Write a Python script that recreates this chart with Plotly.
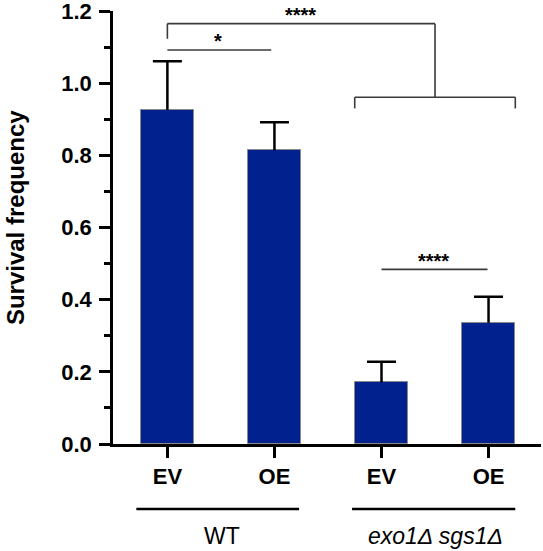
import plotly.graph_objects as go

# ---- data ----
categories = ["EV", "OE", "EV", "OE"]
means = [0.926, 0.814, 0.171, 0.336]
errors = [0.135, 0.078, 0.057, 0.072]
groups = ["WT", "<i>exo1\u0394 sgs1\u0394</i>"]
y_title = "Survival frequency"

BAR_COLOR = "#00218E"
FONT = "Liberation Sans, Arial, sans-serif"
XR = [-0.508, 3.49]
YR = [0, 1.2]
xpos = list(range(len(categories)))


def px(v):  # data x -> paper fraction
    return (v - XR[0]) / (XR[1] - XR[0])


def py(v):  # data y -> paper fraction
    return (v - YR[0]) / (YR[1] - YR[0])


fig = go.Figure()

fig.add_trace(go.Bar(
    x=xpos, y=means, width=0.5,
    marker=dict(color=BAR_COLOR, line=dict(color="#8a8a8a", width=1)),
    showlegend=False, hoverinfo="skip",
))

# error stems (upper only)
sx, sy = [], []
for i, (m, e) in enumerate(zip(means, errors)):
    sx += [i, i, None]
    sy += [m, m + e, None]
fig.add_trace(go.Scatter(x=sx, y=sy, mode="lines",
                         line=dict(color="black", width=2.5),
                         showlegend=False, hoverinfo="skip"))
# caps
fig.add_trace(go.Scatter(
    x=xpos, y=[m + e for m, e in zip(means, errors)], mode="markers",
    marker=dict(size=1, color="rgba(0,0,0,0)"),
    error_y=dict(type="constant", value=0, width=14.5, thickness=2.5, color="black"),
    showlegend=False, hoverinfo="skip"))

# significance brackets (data units)
SIG = "#3a3a3a"
brackets = [
    ([0, 0, 2.5, 2.5], [1.123, 1.165, 1.165, 0.961]),
    ([1.75, 1.75, 3.25, 3.25], [0.930, 0.961, 0.961, 0.930]),
    ([0, 0.97], [1.092, 1.092]),
    ([2.0, 2.99], [0.484, 0.484]),
]
for bx, by in brackets:
    for k in range(len(bx) - 1):
        fig.add_shape(type="line", xref="paper", yref="paper",
                      x0=px(bx[k]), x1=px(bx[k + 1]), y0=py(by[k]), y1=py(by[k + 1]),
                      line=dict(color=SIG, width=1.6), layer="above")

# group lines under axis
group_lines = [([-0.29, 1.23], -0.18), ([1.725, 3.25], -0.18)]
for (gx0, gx1), gy in group_lines:
    fig.add_shape(type="line", xref="paper", yref="paper",
                  x0=px(gx0), x1=px(gx1), y0=py(gy), y1=py(gy),
                  line=dict(color="black", width=2.5))

stars = [
    (1.24, 1.19, "****"),
    (0.47, 1.118, "*"),
    (2.49, 0.508, "****"),
]
for sxv, syv, t in stars:
    fig.add_annotation(x=px(sxv), y=py(syv), text="<b>" + t + "</b>",
                       showarrow=False, xref="paper", yref="paper",
                       xanchor="center", yanchor="middle",
                       font=dict(family=FONT, size=20, color="black"))
for g, cx in zip(groups, [0.51, 2.5]):
    fig.add_annotation(x=px(cx), y=py(-0.255), text=g, showarrow=False,
                       xref="paper", yref="paper", xanchor="center", yanchor="middle",
                       font=dict(family=FONT, size=23, color="black"))

# y-axis title
fig.add_annotation(x=-0.229, y=0.524, text="<b>" + y_title + "</b>", textangle=-90,
                   showarrow=False, xref="paper", yref="paper",
                   xanchor="center", yanchor="middle",
                   font=dict(family=FONT, size=24, color="black"))

fig.update_layout(
    width=543, height=551,
    margin=dict(l=113, r=2, t=11, b=106.7, autoexpand=False),
    plot_bgcolor="white", paper_bgcolor="white",
    font=dict(family=FONT, color="black"),
    bargap=0,
)
fig.update_xaxes(
    range=XR, tickmode="array", tickvals=xpos, ticktext=categories,
    tickfont=dict(size=22, family=FONT, color="black", weight="bold"),
    showline=True, linecolor="black", linewidth=2.5,
    ticks="outside", ticklen=11, tickwidth=2.5, tickcolor="black",
    showgrid=False, zeroline=False,
)
fig.update_yaxes(
    range=[YR[0], YR[1] + 1e-6], tickmode="linear", tick0=0, dtick=0.2, tickformat=".1f",
    tickfont=dict(size=22, family=FONT, color="black", weight="bold"),
    ticklabeloverflow="allow", ticklabelstandoff=3,
    showline=True, linecolor="black", linewidth=2.5,
    ticks="outside", ticklen=11, tickwidth=2.5, tickcolor="black",
    minor=dict(tickmode="linear", tick0=0, dtick=0.1, ticks="outside", ticklen=6,
               tickwidth=2.5, tickcolor="black"),
    showgrid=False, zeroline=False,
)

# remove the default 8px page margin so the figure sits at the window origin
fig.write_html("out.html", config={"displayModeBar": False},
               post_script="document.body.style.margin='0px';")
